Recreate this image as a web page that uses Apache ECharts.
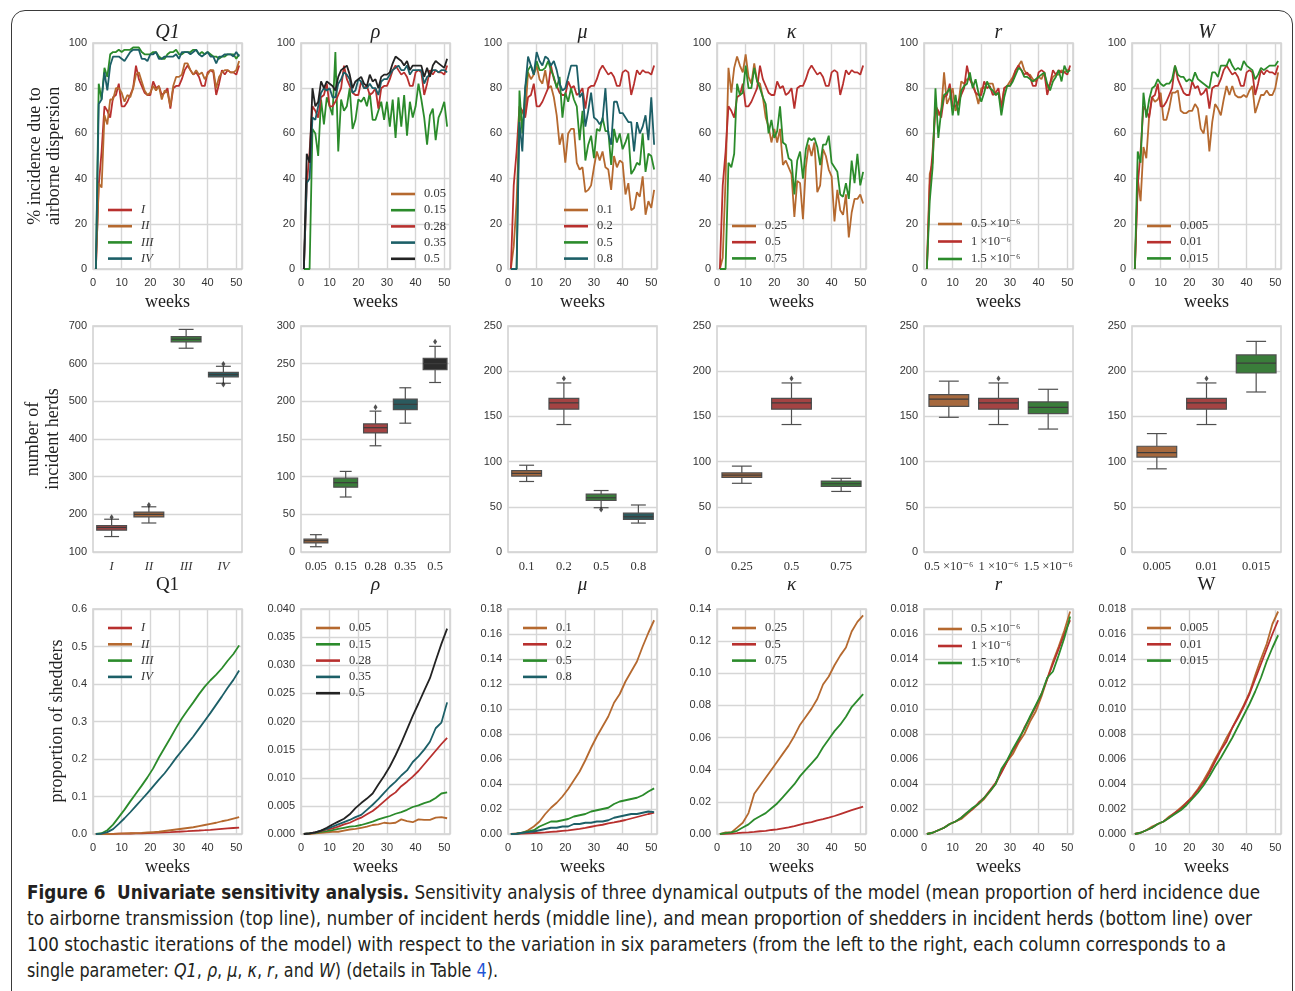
<!DOCTYPE html>
<html><head><meta charset="utf-8">
<script src="https://cdn.jsdelivr.net/npm/echarts@6/dist/echarts.min.js"></script>
<style>
html,body{margin:0;padding:0;background:#fff;width:1295px;height:991px;overflow:hidden;}
#frame{position:absolute;left:11px;top:10px;width:1282px;height:1010px;border:1.3px solid #3a3a3a;border-radius:14px;box-sizing:border-box;}
#chart{position:absolute;left:0;top:0;width:1295px;height:880px;}
#cap{position:absolute;left:27px;top:880px;font-family:'Liberation Sans Narrow','DejaVu Sans Condensed','Liberation Sans',sans-serif;font-size:19.5px;color:#231f20;}
.cl{display:block;height:26px;line-height:26px;white-space:nowrap;}
.cl .in{display:inline-block;transform-origin:0 50%;}
</style></head>
<body>
<div id="frame"></div>
<div id="chart"></div>
<div id="cap">
<div class="cl"><span class="in" data-w="1233"><b>Figure 6&nbsp; Univariate sensitivity analysis.</b> Sensitivity analysis of three dynamical outputs of the model (mean proportion of herd incidence due</span></div>
<div class="cl"><span class="in" data-w="1225">to airborne transmission (top line), number of incident herds (middle line), and mean proportion of shedders in incident herds (bottom line) over</span></div>
<div class="cl"><span class="in" data-w="1199">100 stochastic iterations of the model) with respect to the variation in six parameters (from the left to the right, each column corresponds to a</span></div>
<div class="cl"><span class="in" data-w="471">single parameter: <i>Q1</i>, <i>ρ</i>, <i>μ</i>, <i>κ</i>, <i>r</i>, and <i>W</i>) (details in Table <span style="color:#1f55d6">4</span>).</span></div>
</div>
<script>
// ---------- axes domains ----------
const weeks = [1,2,3,4,5,6,7,8,9,10,11,12,13,14,15,16,17,18,19,20,21,22,23,24,25,26,27,28,29,30,31,32,33,34,35,36,37,38,39,40,41,42,43,44,45,46,47,48,49,50,51];
const weeksOdd = [1,3,5,7,9,11,13,15,17,19,21,23,25,27,29,31,33,35,37,39,41,43,45,47,49,51];

// ---------- parameter levels (tick / legend labels) ----------
const q1Levels = ['I','II','III','IV'];
const rhoLevels = ['0.05','0.15','0.28','0.35','0.5'];
const muLevels = ['0.1','0.2','0.5','0.8'];
const kappaLevels = ['0.25','0.5','0.75'];
const rLevels = ['0.5 ×10⁻⁶','1 ×10⁻⁶','1.5 ×10⁻⁶'];
const wLevels = ['0.005','0.01','0.015'];

// ---------- top row: % incidence due to airborne dispersion ----------
const baseAir = [0,37,52,72,70,67,76,77,82,72,72,74,77,80,90,84,81,78,77,77,83,80,81,77,78,80,71,80,81,81,84,88,90,88,86,87,85,81,81,87,88,87,77,82,88,86,88,87,87,86,90];
const q1II_air = [0,38,36,68,64,75,75,80,80,78,74,77,76,80,86,87,83,79,77,78,81,79,81,75,79,78,72,81,85,85,86,91,91,88,86,88,86,87,84,86,88,88,80,85,87,88,88,87,87,88,92];
const q1III_air = [0,82,75,89,85,95,96,96,97,96,97,97,97,98,98,98,96,95,95,95,96,96,94,93,93,95,96,96,97,95,95,96,96,96,97,97,95,96,95,96,95,94,94,93,94,94,95,95,95,93,95];
const q1IV_air = [0,73,75,87,79,90,94,94,94,93,92,94,96,97,97,97,93,93,92,95,95,96,93,93,94,94,94,94,95,93,96,96,96,95,96,97,95,94,95,96,94,94,91,94,94,95,95,95,94,96,94];
const rho005_air = [];
const rho015_air = [0,0,0,62,60,50,75,64,76,72,68,96,52,75,70,72,80,62,66,75,74,76,72,78,66,66,70,74,66,74,63,75,58,76,63,77,59,74,67,72,82,75,67,55,68,71,57,67,70,74,63];
const rho035_air = [0,38,40,67,66,72,78,80,79,80,76,76,82,84,87,86,84,78,79,84,83,80,80,82,80,80,77,83,84,84,86,88,89,90,88,88,90,86,88,88,88,88,82,85,86,88,88,87,88,88,87];
const rho05_air = [0,51,47,80,72,74,83,80,83,82,81,79,85,88,89,90,86,80,83,84,85,82,81,86,83,84,80,85,86,86,87,91,94,93,92,90,92,88,90,90,90,90,85,89,85,90,92,91,90,89,93];
const mu01_air = [0,10,30,65,70,68,87,84,86,90,84,82,88,80,81,76,68,55,60,47,60,62,62,47,44,45,34,35,37,45,52,48,52,45,44,35,50,45,48,47,33,38,26,27,34,32,41,24,30,27,35];
const mu05_air = [0,0,0,79,60,80,88,90,86,92,88,88,89,92,88,85,80,85,67,78,74,80,75,72,57,70,48,55,59,49,62,61,67,61,61,46,62,56,60,53,56,60,42,44,47,46,60,43,51,50,44];
const mu08_air = [0,0,0,65,52,80,94,90,86,96,92,90,94,93,90,92,88,82,79,80,85,90,90,90,76,78,63,70,78,67,66,64,66,80,60,55,74,74,69,69,67,65,65,52,65,60,63,68,57,76,55];
const kappa025_air = [0,5,40,89,78,89,94,90,87,95,85,82,91,83,82,76,67,63,56,62,56,62,46,48,45,42,23,39,38,22,45,55,50,56,34,37,53,50,44,41,21,35,26,24,33,14,25,31,31,33,29];
const kappa075_air = [0,0,0,47,45,51,82,77,78,90,80,80,89,83,80,76,73,60,66,58,61,72,56,55,49,48,33,48,52,40,53,58,57,58,54,46,55,55,59,47,45,43,33,32,38,31,48,38,51,37,43];
const r05_air = [0,42,47,73,68,70,87,73,76,80,70,73,83,82,84,84,82,78,73,80,80,82,82,82,77,78,72,80,81,83,85,88,90,92,88,86,86,84,83,85,84,87,80,82,85,86,86,88,87,88,88];
const r15_air = [0,30,45,80,58,70,77,78,80,68,77,68,79,81,82,87,80,84,78,74,78,83,80,79,77,78,68,76,81,81,83,86,89,88,85,85,84,83,84,85,86,87,82,79,83,85,88,83,90,87,88];
const w005_air = [0,40,30,54,49,68,76,74,75,78,66,66,71,78,78,79,70,69,69,70,70,73,71,62,60,68,52,65,73,71,68,75,81,77,81,77,76,76,77,76,79,81,69,73,77,77,79,77,77,80,87];
const w015_air = [0,52,47,78,67,75,80,81,84,82,81,82,82,84,90,86,85,85,83,84,83,87,84,83,82,81,80,87,87,85,90,90,90,93,90,88,89,88,92,90,89,88,84,86,89,88,89,90,90,90,92];

// ---------- middle row: number of incident herds [min, q1, median, q3, max] ----------
const baseBox = [141,158,165,170,187];
const q1IIBox = [177,193,200,206,220];
const q1IIIBox = [641,658,665,672,691];
const q1IVBox = [548,565,571,577,593];
const rho005Box = [7,12,15,17,23];
const rho015Box = [73,86,92,98,107];
const rho035Box = [171,189,196,203,218];
const rho05Box = [225,242,250,257,273];
const mu01Box = [78,84,87,90,96];
const mu05Box = [49,57,60,64,68];
const mu08Box = [32,36,39,43,52];
const kappa025Box = [76,82.5,85,87.5,95];
const kappa075Box = [67,72.5,75.5,78.5,81.5];
const r05Box = [149,161,169,174,189];
const r15Box = [136,153,160,166,180];
const w005Box = [92,105,110,117,131];
const w015Box = [177,198,209,218,233];
// outliers [level, value]
const q1Out = [['I',192],['II',225],['IV',599],['IV',545]];
const rhoOut = [['0.28',192],['0.5',279]];
const muOut = [['0.2',192],['0.5',47]];
const kappaOut = [['0.5',192]];
const rOut = [['1 ×10⁻⁶',192]];
const wOut = [['0.01',192]];

// ---------- bottom row: proportion of shedders (odd weeks) ----------
const baseShed = [0,0.0001,0.0003,0.0005,0.0008,0.0010,0.0013,0.0017,0.0020,0.0025,0.0029,0.0035,0.0041,0.0049,0.0058,0.0067,0.0074,0.0085,0.0093,0.0102,0.0112,0.0124,0.0136,0.0148,0.0160,0.0171];
const q1II_shed = [0,0,0,0.0005,0.001,0.0015,0.002,0.0025,0.003,0.004,0.005,0.006,0.008,0.010,0.012,0.014,0.016,0.018,0.021,0.024,0.027,0.030,0.034,0.037,0.041,0.045];
const q1III_shed = [0,0.002,0.010,0.025,0.045,0.065,0.087,0.108,0.129,0.151,0.175,0.204,0.230,0.256,0.283,0.308,0.330,0.351,0.373,0.393,0.410,0.425,0.442,0.462,0.480,0.503];
const q1IV_shed = [0,0.001,0.005,0.013,0.027,0.042,0.058,0.075,0.092,0.109,0.127,0.145,0.162,0.182,0.203,0.222,0.241,0.260,0.281,0.302,0.323,0.345,0.367,0.390,0.411,0.436];
const rho005_shed = [0,0,0.0001,0.0002,0.0003,0.0004,0.0004,0.0006,0.0008,0.0009,0.0011,0.0013,0.0016,0.0017,0.0020,0.0019,0.0020,0.0026,0.0023,0.0021,0.0026,0.0025,0.0025,0.0029,0.0030,0.0028];
const rho015_shed = [0,0.0001,0.0002,0.0004,0.0005,0.0007,0.0009,0.0011,0.0013,0.0014,0.0016,0.0019,0.0022,0.0026,0.0029,0.0032,0.0036,0.0039,0.0043,0.0048,0.0051,0.0055,0.0058,0.0064,0.0072,0.0074];
const rho035_shed = [0,0.0001,0.0003,0.0006,0.0009,0.0013,0.0017,0.0021,0.0025,0.0030,0.0034,0.0043,0.0052,0.0062,0.0073,0.0084,0.0093,0.0104,0.0113,0.0128,0.0138,0.0150,0.0164,0.0188,0.0198,0.0234];
const rho05_shed = [0,0.0001,0.0003,0.0006,0.0011,0.0017,0.0022,0.0027,0.0035,0.0046,0.0055,0.0063,0.0072,0.0088,0.0103,0.0120,0.0140,0.0162,0.0186,0.0210,0.0232,0.0255,0.0277,0.0308,0.0338,0.0365];
const mu01_shed = [0,0.0005,0.001,0.003,0.006,0.010,0.016,0.021,0.025,0.030,0.036,0.043,0.050,0.059,0.069,0.078,0.086,0.094,0.105,0.112,0.122,0.130,0.138,0.150,0.161,0.171];
const mu05_shed = [0,0.0003,0.001,0.002,0.003,0.006,0.008,0.010,0.010,0.011,0.012,0.014,0.015,0.016,0.018,0.019,0.020,0.021,0.024,0.026,0.027,0.028,0.029,0.031,0.034,0.0365];
const mu08_shed = [0,0.0002,0.001,0.0015,0.002,0.003,0.004,0.005,0.005,0.006,0.006,0.008,0.008,0.009,0.009,0.010,0.010,0.011,0.013,0.014,0.015,0.016,0.016,0.017,0.018,0.0175];
const kappa025_shed = [0,0.001,0.001,0.004,0.007,0.013,0.025,0.030,0.035,0.040,0.045,0.050,0.055,0.061,0.068,0.073,0.078,0.084,0.093,0.098,0.105,0.111,0.116,0.126,0.132,0.136];
const kappa075_shed = [0,0.0005,0.001,0.002,0.004,0.006,0.009,0.011,0.013,0.016,0.019,0.023,0.027,0.031,0.036,0.040,0.044,0.048,0.054,0.059,0.064,0.068,0.073,0.079,0.083,0.087];
const r05_shed = [0,0.0001,0.0003,0.0005,0.0008,0.0010,0.0012,0.0016,0.0020,0.0024,0.0028,0.0034,0.0040,0.0050,0.0058,0.0064,0.0073,0.0080,0.0090,0.0098,0.0110,0.0124,0.0138,0.0150,0.0163,0.0178];
const r15_shed = [0,0.0001,0.0003,0.0005,0.0008,0.0010,0.0013,0.0017,0.0021,0.0024,0.0029,0.0034,0.0040,0.0052,0.0059,0.0068,0.0076,0.0084,0.0094,0.0103,0.0112,0.0125,0.0130,0.0143,0.0157,0.0174];
const w005_shed = [0,0.0001,0.0003,0.0006,0.0008,0.0010,0.0014,0.0017,0.0021,0.0025,0.0030,0.0036,0.0043,0.0051,0.0060,0.0068,0.0077,0.0085,0.0094,0.0103,0.0113,0.0127,0.0140,0.0152,0.0168,0.0178];
const w015_shed = [0,0.0001,0.0003,0.0005,0.0008,0.0010,0.0013,0.0016,0.0019,0.0023,0.0028,0.0033,0.0039,0.0046,0.0054,0.0061,0.0069,0.0077,0.0086,0.0095,0.0104,0.0114,0.0125,0.0138,0.0149,0.0159];

// ---------- styling ----------
const LINE = {red:'#b8302e', brown:'#b5692f', green:'#2b8b2b', teal:'#1c5f67', black:'#232323'};
const BOX = {red:'#a44343', brown:'#a6693e', green:'#3a7d3a', teal:'#2b5a5e', black:'#2c2c2c'};
const SERIF = "'Liberation Serif','DejaVu Serif',serif";
const SANS = "'Liberation Sans','DejaVu Sans',sans-serif";
const GRIDC = '#d6d6d6';

const panels = [
  {title:'Q1', pname:'Q1', pnameItalic:false, levels:q1Levels, levelItalic:true, colors:['red','brown','green','teal'],
   air:[baseAir,q1II_air,q1III_air,q1IV_air], box:[baseBox,q1IIBox,q1IIIBox,q1IVBox], out:q1Out,
   shed:[baseShed,q1II_shed,q1III_shed,q1IV_shed], boxY:[100,700,100], shedY:[0.6,0.1,1],
   leg1:[103,205,16.2], leg3:[103,623,16.3]},
  {title:'ρ', pname:'ρ', pnameItalic:true, levels:rhoLevels, colors:['brown','green','red','teal','black'],
   air:[rho005_air,rho015_air,baseAir,rho035_air,rho05_air], box:[rho005Box,rho015Box,baseBox,rho035Box,rho05Box], out:rhoOut,
   shed:[rho005_shed,rho015_shed,baseShed,rho035_shed,rho05_shed], boxY:[0,300,50], shedY:[0.04,0.005,3],
   leg1:[386,189,16.2], leg3:[311,623,16.3]},
  {title:'μ', pname:'μ', pnameItalic:true, levels:muLevels, colors:['brown','red','green','teal'],
   air:[mu01_air,baseAir,mu05_air,mu08_air], box:[mu01Box,baseBox,mu05Box,mu08Box], out:muOut,
   shed:[mu01_shed,baseShed,mu05_shed,mu08_shed], boxY:[0,250,50], shedY:[0.18,0.02,2],
   leg1:[559,205,16.2], leg3:[518,623,16.3]},
  {title:'κ', pname:'κ', pnameItalic:true, levels:kappaLevels, colors:['brown','red','green'],
   air:[kappa025_air,baseAir,kappa075_air], box:[kappa025Box,baseBox,kappa075Box], out:kappaOut,
   shed:[kappa025_shed,baseShed,kappa075_shed], boxY:[0,250,50], shedY:[0.14,0.02,2],
   leg1:[727,221,16.2], leg3:[727,623,16.3]},
  {title:'r', pname:'r', pnameItalic:true, levels:rLevels, colors:['brown','red','green'],
   air:[r05_air,baseAir,r15_air], box:[r05Box,baseBox,r15Box], out:rOut,
   shed:[r05_shed,baseShed,r15_shed], boxY:[0,250,50], shedY:[0.018,0.002,3],
   leg1:[933,219,17.5], leg3:[933,624,17]},
  {title:'W', pname:'W', pnameItalic:false, levels:wLevels, colors:['brown','red','green'],
   air:[w005_air,baseAir,w015_air], box:[w005Box,baseBox,w015Box], out:wOut,
   shed:[w005_shed,baseShed,w015_shed], boxY:[0,250,50], shedY:[0.018,0.002,3],
   leg1:[1142,221,16.2], leg3:[1142,623,16.3]}
];

const colLeft = [93,301,508,717,924,1132];
const plotW = 149;
const rowTop = [43,326,609];
const rowH = [226,226,225];

function pairs(xs, ys){ return ys.map((v,i)=>[xs[i], v]); }

function boxRender(params, api){
  const i = api.value(0);
  const pMn = api.coord([i, api.value(1)]);
  const pQ1 = api.coord([i, api.value(2)]);
  const pMd = api.coord([i, api.value(3)]);
  const pQ3 = api.coord([i, api.value(4)]);
  const pMx = api.coord([i, api.value(5)]);
  const band = api.size([1,0])[0];
  const w = band*0.8, x = pMd[0];
  const st = {stroke:'#4f4f4f', lineWidth:1.2};
  return {type:'group', children:[
    {type:'line', shape:{x1:x,y1:pQ3[1],x2:x,y2:pMx[1]}, style:st},
    {type:'line', shape:{x1:x,y1:pQ1[1],x2:x,y2:pMn[1]}, style:st},
    {type:'line', shape:{x1:x-w/4,y1:pMx[1],x2:x+w/4,y2:pMx[1]}, style:st},
    {type:'line', shape:{x1:x-w/4,y1:pMn[1],x2:x+w/4,y2:pMn[1]}, style:st},
    {type:'rect', shape:{x:x-w/2,y:pQ3[1],width:w,height:pQ1[1]-pQ3[1]}, style:{fill:api.visual('color'), stroke:'#4f4f4f', lineWidth:1.2}},
    {type:'line', shape:{x1:x-w/2,y1:pMd[1],x2:x+w/2,y2:pMd[1]}, style:{stroke:'#3c3c3c', lineWidth:1.2}}
  ]};
}

const grids=[], xAxes=[], yAxes=[], series=[], legends=[], graphics=[];
const labelMap = {};
const tickLabel = {color:'#333', fontFamily:SANS, fontSize:11};

function addGrid(row, c){
  grids.push({left:colLeft[c], top:rowTop[row], width:plotW, height:rowH[row], show:true,
    borderColor:'#cfcfcf', borderWidth:1.5, backgroundColor:'#fff', outerBoundsMode:'none', containLabel:false});
  return grids.length-1;
}
function weekAxis(g){
  return {type:'value', gridIndex:g, min:0, max:52, interval:10,
    axisLine:{show:false}, axisTick:{show:false},
    axisLabel:Object.assign({margin:8, showMaxLabel:false, formatter:v=> (v%10===0? String(v):'')}, tickLabel),
    splitLine:{show:true, lineStyle:{color:GRIDC, width:1.4}}};
}
function valAxis(g, min, max, interval, dec){
  return {type:'value', gridIndex:g, min:min, max:max, interval:interval,
    axisLine:{show:false}, axisTick:{show:false},
    axisLabel:Object.assign({margin:6, formatter:v=> dec==null? String(Math.round(v)) : v.toFixed(dec)}, tickLabel),
    splitLine:{show:true, lineStyle:{color:GRIDC, width:1.4}}};
}
function legendFor(names, pos, italic){
  return {orient:'vertical', left:pos[0], top:pos[1]-7, itemWidth:24, itemHeight:2.6, itemGap:pos[2]-14,
    icon:'rect', data:names, formatter:n=>labelMap[n], selectedMode:false,
    textStyle:{fontFamily:SERIF, fontSize:12.5, color:'#333', fontStyle: italic?'italic':'normal', padding:[0,0,0,4], lineHeight:14, height:14}};
}

panels.forEach((p,c)=>{
  const cx = colLeft[c] + plotW/2;
  // row 1
  const g1 = addGrid(0,c);
  xAxes.push(weekAxis(g1));
  yAxes.push(valAxis(g1,0,100,20,null));
  const n1=[];
  p.air.forEach((arr,k)=>{
    const nm = 'a'+c+'_'+k; labelMap[nm]=p.levels[k]; n1.push(nm);
    series.push({name:nm, type:'line', xAxisIndex:g1, yAxisIndex:g1, data:pairs(weeks, arr),
      symbol:'none', showSymbol:false, lineStyle:{color:LINE[p.colors[k]], width:1.8}, itemStyle:{color:LINE[p.colors[k]]},
      emphasis:{disabled:true}, animation:false, z:2+k});
  });
  legends.push(legendFor(n1, p.leg1, !!p.levelItalic));
  // row 2
  const g2 = addGrid(1,c);
  xAxes.push({type:'category', gridIndex:g2, data:p.levels, boundaryGap:true,
    axisLine:{show:false}, axisTick:{show:false}, splitLine:{show:false},
    axisLabel:{margin:8, color:'#333', fontFamily:SERIF, fontSize:12.5, fontStyle:p.levelItalic?'italic':'normal', interval:0}});
  yAxes.push(valAxis(g2,p.boxY[0],p.boxY[1],p.boxY[2],null));
  series.push({type:'custom', xAxisIndex:g2, yAxisIndex:g2, renderItem:boxRender, animation:false,
    encode:{x:0, y:[1,2,3,4,5]},
    data:p.box.map((b,k)=>({value:[k].concat(b), itemStyle:{color:BOX[p.colors[k]]}})), z:3});
  series.push({type:'scatter', xAxisIndex:g2, yAxisIndex:g2, data:p.out, symbol:'diamond', symbolSize:[4,6],
    itemStyle:{color:'#262626'}, animation:false, z:4, emphasis:{disabled:true}});
  // row 3
  const g3 = addGrid(2,c);
  xAxes.push(weekAxis(g3));
  yAxes.push(valAxis(g3,0,p.shedY[0],p.shedY[1],p.shedY[2]));
  const n3=[];
  p.shed.forEach((arr,k)=>{
    const nm = 's'+c+'_'+k; labelMap[nm]=p.levels[k]; n3.push(nm);
    series.push({name:nm, type:'line', xAxisIndex:g3, yAxisIndex:g3, data:pairs(weeksOdd, arr),
      symbol:'none', showSymbol:false, lineStyle:{color:LINE[p.colors[k]], width:1.8}, itemStyle:{color:LINE[p.colors[k]]},
      emphasis:{disabled:true}, animation:false, z:2+k});
  });
  legends.push(legendFor(n3, p.leg3, !!p.levelItalic));
  // texts
  graphics.push({type:'text', x:cx, y:33, style:{text:p.title, fontFamily:SERIF, fontSize:20, fontStyle:'italic', fill:'#222', textAlign:'center', textVerticalAlign:'middle'}});
  graphics.push({type:'text', x:cx, y:302, style:{text:'weeks', fontFamily:SERIF, fontSize:18, fill:'#222', textAlign:'center', textVerticalAlign:'middle'}});
  graphics.push({type:'text', x:cx, y:585, style:{text:p.pname, fontFamily:SERIF, fontSize:19, fontStyle:p.pnameItalic?'italic':'normal', fill:'#222', textAlign:'center', textVerticalAlign:'middle'}});
  graphics.push({type:'text', x:cx, y:867, style:{text:'weeks', fontFamily:SERIF, fontSize:18, fill:'#222', textAlign:'center', textVerticalAlign:'middle'}});
});

graphics.push({type:'text', x:45, y:156, rotation:Math.PI/2, style:{text:'% incidence due to\nairborne dispersion', fontFamily:SERIF, fontSize:18, lineHeight:19, fill:'#222', textAlign:'center', textVerticalAlign:'middle'}});
graphics.push({type:'text', x:43, y:439, rotation:Math.PI/2, style:{text:'number of\nincident herds', fontFamily:SERIF, fontSize:18, lineHeight:20, fill:'#222', textAlign:'center', textVerticalAlign:'middle'}});
graphics.push({type:'text', x:57, y:721, rotation:Math.PI/2, style:{text:'proportion of shedders', fontFamily:SERIF, fontSize:18, fill:'#222', textAlign:'center', textVerticalAlign:'middle'}});

const chart = echarts.init(document.getElementById('chart'), null, {renderer:'canvas'});
chart.setOption({
  animation:false, backgroundColor:'transparent',
  grid:grids, xAxis:xAxes, yAxis:yAxes, series:series, legend:legends, graphic:graphics,
  tooltip:{show:false}
});

// caption line fitting
document.querySelectorAll('#cap .in').forEach(el=>{
  const w = el.getBoundingClientRect().width;
  const t = +el.dataset.w;
  if (w>0) el.style.transform = 'scaleX(' + (t/w) + ')';
});
</script>
</body></html>
